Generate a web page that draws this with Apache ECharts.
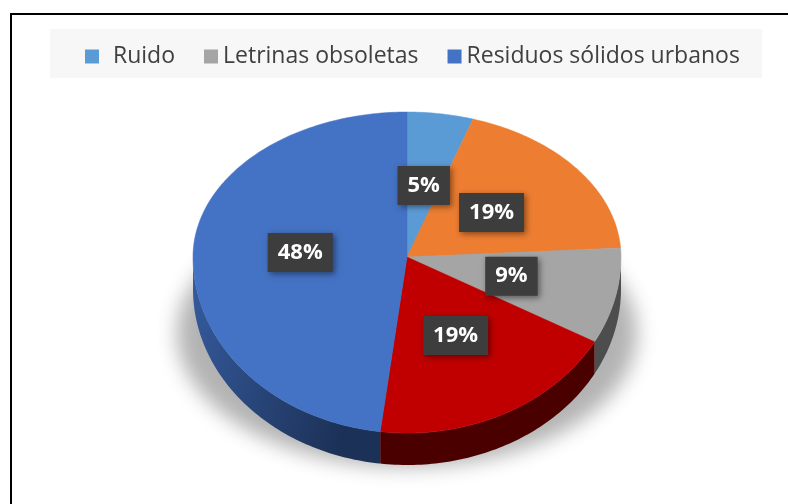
<!DOCTYPE html>
<html>
<head>
<meta charset="utf-8">
<script src="https://cdn.jsdelivr.net/npm/echarts@6/dist/echarts.min.js"></script>
<style>
  html, body { margin: 0; padding: 0; background: #fff; }
  #chart { width: 788px; height: 504px; }
</style>
</head>
<body>
<div id="chart"></div>
<script>
// datos del gráfico (sentido horario desde las 12)
const categories = ['Ruido', 'Categoría 2', 'Letrinas obsoletas', 'Categoría 4', 'Residuos sólidos urbanos']
const values = [5, 19, 9, 19, 48]
const colors = ['#5B9BD5', '#ED7D31', '#A5A5A5', '#C00000', '#4472C4']
const sideColors = ['#3a6d9c', '#a4541d', '#4d4d4d', '#4b0000', '#27437a']
const legendNames = ['Ruido', 'Letrinas obsoletas', 'Residuos sólidos urbanos']

const total = values.reduce((a, b) => a + b, 0)
const starts = values.map((v, i) => values.slice(0, i).reduce((a, b) => a + b, 0))

// geometría del pastel en perspectiva
const cx = 407, cy = 257, rx = 214, ryTop = 145, ryBot = 176, depth = 32

function pt(a, k, dy) {
  const r = a * Math.PI / 180, c = Math.cos(r)
  return [cx + k * rx * Math.sin(r), cy - k * (c >= 0 ? ryTop : ryBot) * c + (dy || 0)]
}
function arc(a0, a1, dy) {
  const pts = []
  const n = Math.max(2, Math.ceil(a1 - a0))
  for (let i = 0; i <= n; i++) pts.push(pt(a0 + (a1 - a0) * i / n, 1, dy))
  return pts
}

const blueSide = new echarts.graphic.LinearGradient(0, 0, 1, 0.3, [
  { offset: 0, color: '#365c9f' }, { offset: 1, color: '#1c3157' }
])

let myChart = echarts.init(document.getElementById('chart'))
myChart.setOption({
  animation: false,
  backgroundColor: '#fff',
  graphic: [
    { type: 'polyline', shape: { points: [[11, 504], [11, 14], [788, 14]] },
      style: { stroke: '#000', lineWidth: 2, fill: null } },
    { type: 'rect', shape: { x: 50, y: 29, width: 712, height: 49 }, style: { fill: '#f7f7f7' } },
    // sombra difusa (la forma queda fuera de la vista, solo se ve su sombra)
    { type: 'ellipse', shape: { cx: cx + 2000, cy: 333, rx: 230, ry: 134 },
      style: { fill: '#000', shadowBlur: 20, shadowColor: 'rgba(0,0,0,0.3)', shadowOffsetX: -2000 } }
  ],
  legend: {
    left: 80,
    top: 40,
    itemWidth: 14,
    itemHeight: 14,
    itemGap: 29,
    icon: 'rect',
    textStyle: { color: '#404040', fontSize: 23, fontFamily: 'Open Sans' },
    data: legendNames.map(n => n === 'Ruido'
      ? { name: n, textStyle: { padding: [0, 0, 0, 9] } }
      : { name: n })
  },
  series: categories.map((name, i) => ({
    type: 'custom',
    name: name,
    coordinateSystem: 'none',
    itemStyle: { color: colors[i] },
    data: [[starts[i], values[i]]],
    renderItem: (params, api) => {
      const a0 = api.value(0) / total * 360
      const a1 = (api.value(0) + api.value(1)) / total * 360
      const children = []
      const w0 = Math.max(a0, 90), w1 = Math.min(a1, 270)
      if (w1 > w0) {
        children.push({
          type: 'polygon', z2: 1,
          shape: { points: arc(w0, w1, 0).concat(arc(w0, w1, depth).reverse()) },
          style: { fill: i === 4 ? blueSide : sideColors[i] }
        })
      }
      children.push({
        type: 'polygon', z2: 2,
        shape: { points: [[cx, cy]].concat(arc(a0, a1, 0)) },
        style: { fill: colors[i], stroke: colors[i], lineWidth: 0.5 }
      })
      const m = pt((a0 + a1) / 2, 0.5, 0)
      children.push({
        type: 'text', z2: 10, x: m[0], y: m[1],
        style: {
          text: Math.round(api.value(1) / total * 100) + '%',
          fill: '#fff', font: 'bold 22px "Open Sans"',
          align: 'center', verticalAlign: 'middle',
          backgroundColor: '#3d3d3d', padding: [9, 10, 8, 10],
          shadowBlur: 6, shadowColor: 'rgba(0,0,0,0.45)', shadowOffsetX: 2, shadowOffsetY: 2
        }
      })
      return { type: 'group', children: children }
    }
  }))
})
</script>
</body>
</html>
